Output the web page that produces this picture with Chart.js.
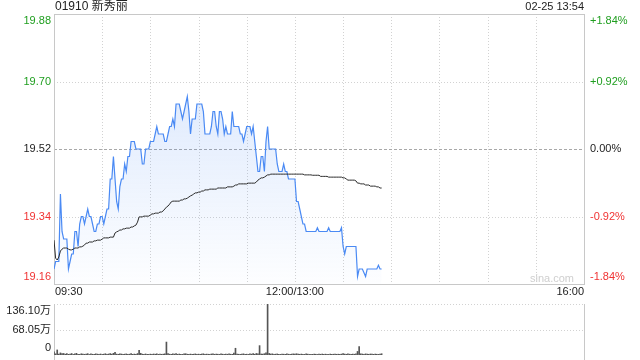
<!DOCTYPE html>
<html>
<head>
<meta charset="utf-8">
<script src="https://cdn.jsdelivr.net/npm/chart.js@4/dist/chart.umd.min.js"></script>
<style>
body{margin:0;background:#fff;width:640px;height:360px;overflow:hidden;position:relative;}
#main{position:absolute;left:0;top:0;}
#vol{position:absolute;left:0;top:296px;}
</style>
</head>
<body>
<canvas id="main" width="640" height="296"></canvas>
<canvas id="vol" width="640" height="64"></canvas>
<script>
//Header
const title = '01910 新秀丽';
const stamp = '02-25 13:54';

//Axes
const prevClose = 19.52;
const priceTicks = [19.16, 19.34, 19.52, 19.70, 19.88];
const pctLabels = ['-1.84%', '-0.92%', '0.00%', '+0.92%', '+1.84%'];
const timeTicks = [0, 150, 330];
const timeLabels = ['09:30', '12:00/13:00', '16:00'];
const volTicks = [0, 68.05, 136.10];
const volLabels = ['0', '68.05万', '136.10万'];

//Minute data, 09:30 -> 13:54
const prices = [
  19.20,19.22,19.22,19.22,19.40,19.30,19.28,19.28,19.28,19.20,
  19.22,19.24,19.24,19.30,19.30,19.26,19.32,19.34,19.34,19.32,
  19.34,19.36,19.34,19.34,19.32,19.30,19.30,19.32,19.32,19.34,
  19.34,19.32,19.34,19.36,19.36,19.44,19.44,19.50,19.44,19.38,
  19.36,19.42,19.44,19.44,19.48,19.46,19.50,19.50,19.54,19.54,
  19.54,19.52,19.52,19.52,19.52,19.48,19.48,19.52,19.52,19.52,
  19.54,19.54,19.54,19.56,19.58,19.56,19.56,19.56,19.56,19.54,
  19.54,19.56,19.58,19.58,19.60,19.58,19.64,19.64,19.64,19.62,
  19.60,19.62,19.64,19.66,19.62,19.56,19.60,19.60,19.60,19.64,
  19.64,19.64,19.64,19.62,19.56,19.56,19.56,19.56,19.58,19.62,
  19.62,19.58,19.56,19.62,19.62,19.60,19.56,19.58,19.56,19.56,
  19.56,19.62,19.58,19.58,19.58,19.58,19.56,19.56,19.54,19.56,
  19.58,19.58,19.58,19.56,19.58,19.54,19.50,19.46,19.46,19.50,
  19.50,19.46,19.54,19.58,19.52,19.52,19.52,19.52,19.52,19.48,
  19.46,19.46,19.46,19.48,19.46,19.46,19.44,19.44,19.44,19.44,
  19.44,19.38,19.38,19.36,19.34,19.32,19.32,19.30,19.30,19.30,
  19.30,19.30,19.30,19.30,19.31,19.30,19.30,19.30,19.30,19.30,
  19.30,19.31,19.30,19.30,19.30,19.30,19.30,19.30,19.30,19.31,
  19.26,19.24,19.26,19.26,19.26,19.26,19.26,19.26,19.26,19.18,
  19.20,19.20,19.20,19.19,19.18,19.20,19.20,19.20,19.20,19.20,
  19.20,19.20,19.21,19.20,19.20
];
const avgPrices = [
  19.277,19.229,19.224,19.232,19.248,19.253,19.256,19.256,19.256,19.253,
  19.251,19.251,19.253,19.256,19.256,19.256,19.259,19.259,19.261,19.264,
  19.269,19.269,19.272,19.272,19.272,19.275,19.275,19.277,19.277,19.277,
  19.280,19.283,19.283,19.283,19.283,19.285,19.285,19.285,19.296,19.299,
  19.301,19.304,19.304,19.307,19.307,19.309,19.309,19.309,19.312,19.312,
  19.315,19.317,19.325,19.339,19.339,19.339,19.341,19.341,19.341,19.341,
  19.344,19.347,19.347,19.349,19.349,19.349,19.352,19.352,19.355,19.360,
  19.365,19.368,19.373,19.379,19.381,19.381,19.381,19.381,19.381,19.384,
  19.384,19.387,19.387,19.389,19.392,19.395,19.397,19.400,19.403,19.403,
  19.405,19.405,19.408,19.408,19.411,19.411,19.411,19.413,19.413,19.413,
  19.413,19.413,19.416,19.416,19.416,19.416,19.416,19.416,19.419,19.419,
  19.419,19.419,19.421,19.424,19.424,19.427,19.427,19.427,19.427,19.427,
  19.427,19.429,19.429,19.429,19.429,19.429,19.432,19.437,19.440,19.443,
  19.443,19.445,19.448,19.451,19.451,19.453,19.453,19.453,19.453,19.453,
  19.453,19.453,19.453,19.453,19.453,19.453,19.453,19.453,19.453,19.453,
  19.453,19.453,19.453,19.453,19.453,19.453,19.451,19.451,19.451,19.451,
  19.451,19.450,19.450,19.450,19.450,19.450,19.447,19.447,19.447,19.447,
  19.447,19.445,19.445,19.445,19.445,19.445,19.445,19.445,19.445,19.445,
  19.443,19.443,19.440,19.437,19.437,19.437,19.437,19.437,19.435,19.429,
  19.429,19.427,19.427,19.427,19.424,19.424,19.424,19.421,19.421,19.421,
  19.421,19.419,19.419,19.416,19.416
];
//Volume, 万 shares
const volumes = [
  8.2,3.1,13.5,2.4,5.6,3.8,4.1,2.2,3.5,1.8,
  2.6,3.9,1.5,2.8,4.4,2.1,1.7,3.3,2.5,1.9,
  2.2,3.6,1.4,2.9,2.0,1.6,3.1,2.4,1.8,2.7,
  1.5,2.3,3.4,1.9,2.6,3.8,2.2,4.5,7.2,2.4,
  1.9,3.1,2.6,1.7,2.3,2.9,1.6,2.2,3.5,1.8,
  2.5,2.1,3.9,12.4,4.6,2.3,1.9,2.8,2.0,1.6,
  2.4,1.8,2.7,2.1,3.2,1.7,2.5,1.9,2.3,3.1,
  34.5,3.6,2.2,1.8,2.9,2.4,3.5,1.9,2.6,2.0,
  1.7,2.8,3.4,2.1,1.8,2.5,1.6,2.2,2.9,1.5,
  2.3,1.9,2.6,3.2,1.8,2.4,2.0,1.6,2.7,3.0,
  1.9,2.5,2.1,1.7,2.8,2.2,1.6,2.4,2.0,3.3,
  2.1,1.8,5.2,18.0,2.6,2.0,1.7,2.5,3.1,1.9,
  2.2,1.6,2.8,2.3,3.6,2.0,4.1,3.2,25.0,2.7,
  2.4,3.5,5.8,136.1,4.2,2.6,3.1,1.9,2.3,2.8,
  2.0,1.7,2.5,2.2,1.8,2.9,2.1,1.6,2.4,3.0,
  2.6,3.4,2.2,1.9,2.5,2.0,1.7,2.8,2.3,1.6,
  2.1,1.8,2.4,2.0,1.5,2.2,1.9,2.6,1.7,2.3,
  2.0,1.6,2.5,1.8,2.1,2.7,1.9,2.2,1.6,2.4,
  3.6,2.5,1.9,2.8,2.2,1.7,2.4,2.0,3.1,9.5,
  22.6,3.2,2.6,2.1,3.0,2.4,1.9,2.7,2.2,1.8,
  2.5,2.0,1.7,2.3,3.4
];

const FONT = 'Arial, "Liberation Sans", "Noto Sans CJK SC", sans-serif';
const GREEN = '#1f9e1f';
const RED = '#f03333';
const GRID = '#d2d2d2';
const BORDER = '#c8c8c8';

function hLine(ctx, a, py){
  ctx.beginPath();
  ctx.moveTo(a.left, py);
  ctx.lineTo(a.right, py);
  ctx.stroke();
}
function vLine(ctx, px, top, bottom){
  ctx.beginPath();
  ctx.moveTo(px, top);
  ctx.lineTo(px, bottom);
  ctx.stroke();
}
function tickColor(v){
  if (Math.abs(v - prevClose) < 0.001) return '#222';
  return v > prevClose ? GREEN : RED;
}

//Price chart grid + labels
const mainDeco = {
  id: 'mainDeco',
  beforeDatasetsDraw(chart){
    const {ctx, chartArea: a, scales: {x, y}} = chart;
    ctx.save();
    ctx.lineWidth = 1;
    ctx.strokeStyle = GRID;
    ctx.setLineDash([1, 2]);
    for (let t = 30; t < 330; t += 30){
      vLine(ctx, Math.round(x.getPixelForValue(t)) + 0.5, a.top, a.bottom);
    }
    priceTicks.forEach(v => {
      if (v === priceTicks[0] || v === priceTicks[priceTicks.length - 1]) return;
      if (v === prevClose){
        ctx.strokeStyle = '#a8a8a8';
        ctx.setLineDash([3, 2]);
      } else {
        ctx.strokeStyle = GRID;
        ctx.setLineDash([1, 2]);
      }
      hLine(ctx, a, Math.round(y.getPixelForValue(v)) + 0.5);
    });
    ctx.setLineDash([]);
    ctx.strokeStyle = BORDER;
    ctx.strokeRect(a.left + 0.5, a.top + 0.5, a.right - a.left, a.bottom - a.top);
    // watermark
    ctx.fillStyle = '#cfcfcf';
    ctx.font = '11px ' + FONT;
    ctx.textAlign = 'right';
    ctx.textBaseline = 'middle';
    ctx.fillText('sina.com', a.right - 10, a.bottom - 5);
    ctx.restore();
  },
  afterDraw(chart){
    const {ctx, chartArea: a, scales: {x, y}} = chart;
    ctx.save();
    ctx.textBaseline = 'middle';
    ctx.font = '12px ' + FONT;
    ctx.fillStyle = '#222';
    ctx.textAlign = 'left';
    ctx.fillText(title, a.left + 1, 7);
    ctx.font = '11px ' + FONT;
    ctx.textAlign = 'right';
    ctx.fillText(stamp, a.right, 7);
    priceTicks.forEach((v, i) => {
      let py = y.getPixelForValue(v);
      if (i === 0) py -= 7;
      if (i === priceTicks.length - 1) py += 7;
      ctx.fillStyle = tickColor(v);
      ctx.textAlign = 'right';
      ctx.fillText(v.toFixed(2), a.left - 3, py);
      ctx.textAlign = 'left';
      ctx.fillText(pctLabels[i], a.right + 6, py);
    });
    ctx.fillStyle = '#222';
    timeTicks.forEach((t, i) => {
      const px = x.getPixelForValue(t);
      ctx.textAlign = i === 0 ? 'left' : (i === timeTicks.length - 1 ? 'right' : 'center');
      ctx.fillText(timeLabels[i], i === 0 ? px + 1 : px, a.bottom + 8);
    });
    ctx.restore();
  }
};

//Volume grid + labels
const volDeco = {
  id: 'volDeco',
  beforeDatasetsDraw(chart){
    const {ctx, chartArea: a, scales: {y}} = chart;
    ctx.save();
    ctx.lineWidth = 1;
    ctx.strokeStyle = GRID;
    ctx.setLineDash([1, 2]);
    volTicks.slice(1).forEach(v => hLine(ctx, a, Math.round(y.getPixelForValue(v)) + 0.5));
    ctx.setLineDash([]);
    ctx.strokeStyle = BORDER;
    vLine(ctx, a.left + 0.5, a.top, a.bottom + 8);
    vLine(ctx, a.right + 0.5, a.top, a.bottom + 8);
    ctx.restore();
  },
  afterDraw(chart){
    const {ctx, chartArea: a, scales: {y}} = chart;
    ctx.save();
    ctx.font = '11px ' + FONT;
    ctx.fillStyle = '#222';
    ctx.textAlign = 'right';
    ctx.textBaseline = 'middle';
    volTicks.forEach((v, i) => {
      let py = y.getPixelForValue(v);
      if (i === 0) py -= 7;
      if (i === volTicks.length - 1) py += 7;
      ctx.fillText(volLabels[i], a.left - 3, py);
    });
    ctx.restore();
  }
};

const priceData = prices.map((p, i) => ({x: i, y: p}));
const avgData = avgPrices.map((p, i) => ({x: i, y: p}));
const volData = volumes.map((v, i) => ({x: i, y: v}));

new Chart(document.getElementById('main'), {
  type: 'line',
  data: {
    datasets: [{
      data: avgData,
      borderColor: '#2b2b2b',
      borderWidth: 1,
      pointRadius: 0,
      fill: false,
      order: 1
    }, {
      data: priceData,
      borderColor: '#4a8af4',
      borderWidth: 1.2,
      pointRadius: 0,
      fill: 'start',
      backgroundColor: (c) => {
        const a = c.chart.chartArea;
        if (!a) return 'rgba(74,138,244,0.1)';
        const g = c.chart.ctx.createLinearGradient(0, a.top, 0, a.bottom);
        g.addColorStop(0, 'rgba(74,138,244,0.24)');
        g.addColorStop(1, 'rgba(74,138,244,0.01)');
        return g;
      },
      order: 2
    }]
  },
  options: {
    responsive: false,
    animation: false,
    devicePixelRatio: 1,
    layout: {padding: {left: 54, right: 56, top: 14, bottom: 12}},
    plugins: {legend: {display: false}, tooltip: {enabled: false}},
    scales: {
      x: {type: 'linear', min: 0, max: 330, display: false},
      y: {min: priceTicks[0], max: priceTicks[priceTicks.length - 1], display: false}
    }
  },
  plugins: [mainDeco]
});

new Chart(document.getElementById('vol'), {
  type: 'bar',
  data: {
    datasets: [{
      data: volData,
      backgroundColor: '#555',
      barThickness: 1
    }]
  },
  options: {
    responsive: false,
    animation: false,
    devicePixelRatio: 1,
    layout: {padding: {left: 54, right: 56, top: 8, bottom: 5}},
    plugins: {legend: {display: false}, tooltip: {enabled: false}},
    scales: {
      x: {type: 'linear', min: 0, max: 330, offset: false, display: false},
      y: {min: 0, max: volTicks[volTicks.length - 1], display: false}
    }
  },
  plugins: [volDeco]
});
</script>
</body>
</html>
